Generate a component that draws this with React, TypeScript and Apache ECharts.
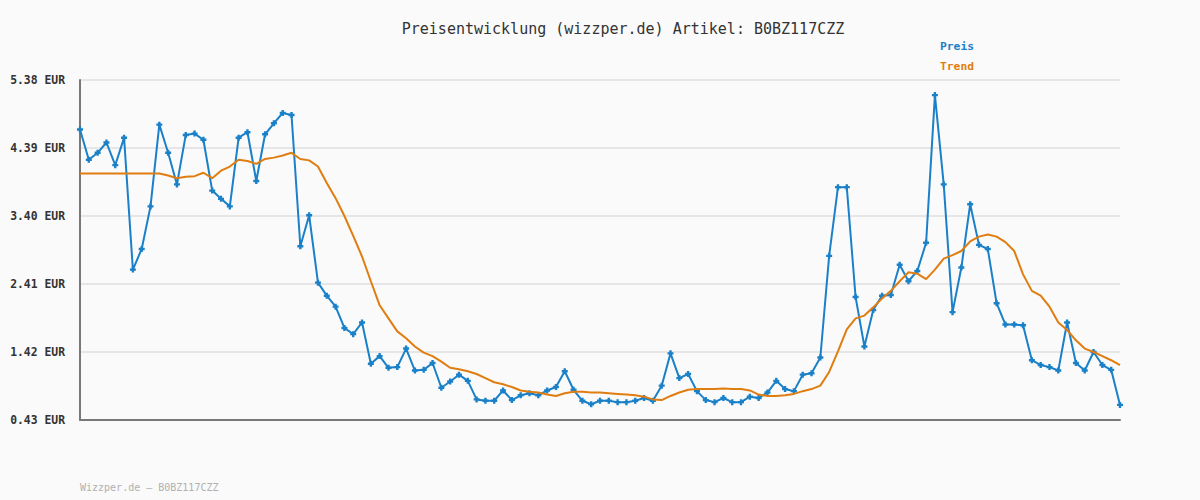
import React, { useEffect, useRef } from "react";
import * as echarts from "echarts";

const TITLE = "Preisentwicklung (wizzper.de) Artikel: B0BZ117CZZ";
const FOOTER = "Wizzper.de \u2013 B0BZ117CZZ";
const SERIES_NAMES = ["Preis", "Trend"];
const TICK_VALUES = [0.43, 1.42, 2.41, 3.4, 4.39, 5.38];

const preis = [
  4.66, 4.22, 4.32, 4.47, 4.14, 4.54, 2.62, 2.92, 3.54, 4.73,
  4.32, 3.86, 4.58, 4.6, 4.51, 3.77, 3.65, 3.54, 4.54, 4.62,
  3.91, 4.59, 4.75, 4.9, 4.87, 2.96, 3.41, 2.43, 2.24, 2.08,
  1.77, 1.68, 1.85, 1.25, 1.36, 1.19, 1.2, 1.47, 1.15, 1.16,
  1.26, 0.9, 0.99, 1.09, 1.0, 0.73, 0.71, 0.71, 0.86, 0.72,
  0.79, 0.82, 0.79, 0.86, 0.91, 1.14, 0.87, 0.71, 0.66, 0.71,
  0.71, 0.69, 0.69, 0.71, 0.75, 0.71, 0.93, 1.4, 1.04, 1.1,
  0.85, 0.72, 0.69, 0.75, 0.69, 0.69, 0.77, 0.75, 0.83, 1.0,
  0.88, 0.85, 1.09, 1.11, 1.34, 2.82, 3.82, 3.82, 2.22, 1.5,
  2.03, 2.24, 2.25, 2.69, 2.45, 2.6, 3.01, 5.16, 3.86, 2.0,
  2.65, 3.57, 2.98, 2.92, 2.13, 1.82, 1.82, 1.81, 1.3, 1.23,
  1.2, 1.15, 1.85, 1.26, 1.15, 1.42, 1.23, 1.16, 0.65,
];

const trend = [
  4.02, 4.02, 4.02, 4.02, 4.02, 4.02, 4.02, 4.02, 4.02, 4.02,
  3.99, 3.95, 3.97, 3.98, 4.03, 3.95, 4.06, 4.12, 4.22, 4.2,
  4.16, 4.23, 4.25, 4.28, 4.32, 4.23, 4.21, 4.12, 3.88, 3.66,
  3.4, 3.11, 2.81, 2.45, 2.1, 1.91, 1.72, 1.62, 1.5, 1.41,
  1.36, 1.28, 1.19, 1.17, 1.14, 1.1, 1.04, 0.98, 0.95, 0.91,
  0.86, 0.84, 0.83, 0.8, 0.78, 0.82, 0.84, 0.84, 0.83, 0.83,
  0.82, 0.81, 0.8, 0.79, 0.77, 0.73, 0.72, 0.78, 0.83, 0.87,
  0.88, 0.88, 0.88, 0.89, 0.88, 0.88, 0.86, 0.8, 0.78, 0.78,
  0.79, 0.81, 0.85, 0.88, 0.93, 1.13, 1.43, 1.75, 1.91, 1.95,
  2.07, 2.2, 2.31, 2.45, 2.58, 2.56, 2.48, 2.62, 2.78, 2.83,
  2.89, 3.03, 3.1, 3.13, 3.1, 3.02, 2.89, 2.55, 2.31, 2.24,
  2.08, 1.85, 1.74, 1.59, 1.47, 1.42, 1.36, 1.3, 1.23,
];

const categories = preis.map((_, i) => String(i + 1));

const BLUE = "#1a80c8";
const ORANGE = "#e07d10";
const MONO = "'DejaVu Sans Mono', 'Liberation Mono', monospace";

export default function App() {
  const ref = useRef<HTMLDivElement>(null);

  useEffect(() => {
    if (!ref.current) return;
    const chart = echarts.init(ref.current, undefined, { renderer: "svg" });
    chart.setOption({
      animation: false,
      backgroundColor: "#fafafa",
      title: {
        text: TITLE,
        left: 618,
        top: 16,
        textAlign: "center",
        textStyle: {
          fontFamily: MONO,
          fontSize: 15,
          fontWeight: "normal",
          color: "#333333",
        },
      },
      graphic: [
        {
          type: "text",
          left: 940,
          top: 41,
          style: {
            text: SERIES_NAMES[0],
            fill: BLUE,
            font: `bold 11.3px ${MONO}`,
          },
        },
        {
          type: "text",
          left: 940,
          top: 61,
          style: {
            text: SERIES_NAMES[1],
            fill: ORANGE,
            font: `bold 11.3px ${MONO}`,
          },
        },
        {
          type: "text",
          left: 80,
          top: 482,
          style: {
            text: FOOTER,
            fill: "#b0b0b0",
            font: `10px ${MONO}`,
          },
        },
      ],
      grid: { left: 80, right: 80, top: 80, bottom: 80, containLabel: false },
      xAxis: {
        type: "category",
        data: categories,
        boundaryGap: false,
        axisLine: { show: true, lineStyle: { color: "#787878", width: 2 } },
        axisTick: { show: false },
        axisLabel: { show: false },
        splitLine: { show: false },
      },
      yAxis: {
        type: "value",
        min: TICK_VALUES[0],
        max: TICK_VALUES[TICK_VALUES.length - 1],
        axisLine: { show: true, lineStyle: { color: "#787878", width: 2 } },
        axisTick: { show: false, customValues: TICK_VALUES },
        axisLabel: {
          customValues: TICK_VALUES,
          margin: 15,
          fontFamily: MONO,
          fontSize: 11.4,
          fontWeight: "bold",
          color: "#333333",
          formatter: (v: number) => `${v.toFixed(2)} EUR`,
        },
        splitLine: { show: true, lineStyle: { color: "#e6e6e6", width: 2 } },
      },
      series: [
        {
          name: SERIES_NAMES[0],
          type: "line",
          data: preis,
          symbol: "path://M1.5,0H3.5V1.5H5V3.5H3.5V5H1.5V3.5H0V1.5H1.5Z",
          symbolSize: 6,
          showSymbol: true,
          showAllSymbol: true,
          itemStyle: { color: BLUE },
          lineStyle: { color: BLUE, width: 2 },
          z: 2,
        },
        {
          name: SERIES_NAMES[1],
          type: "line",
          data: trend,
          showSymbol: false,
          symbol: "none",
          itemStyle: { color: ORANGE },
          lineStyle: { color: ORANGE, width: 2 },
          z: 3,
        },
      ],
    });
    return () => chart.dispose();
  }, []);

  return (
    <div
      ref={ref}
      style={{ position: "absolute", left: 0, top: 0, width: 1200, height: 500 }}
    />
  );
}
